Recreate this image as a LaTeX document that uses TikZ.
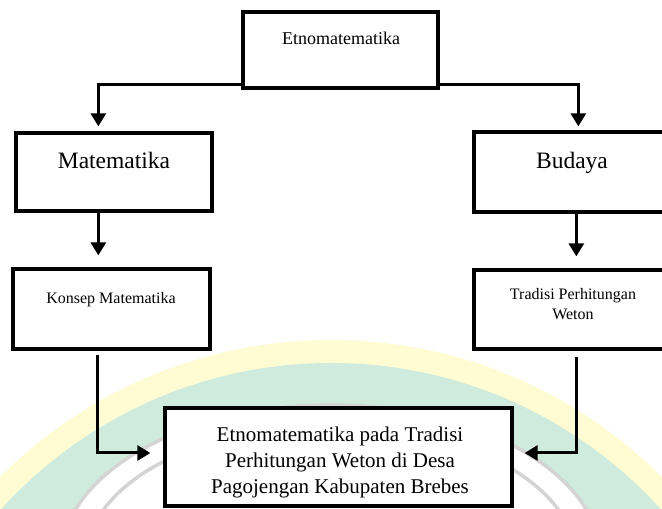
\documentclass[tikz,border=0pt]{standalone}
\usepackage{fontspec}
\setmainfont{Liberation Serif}
\usetikzlibrary{arrows.meta,calc}
\definecolor{wmyellow}{HTML}{FFFBD2}
\definecolor{wmteal}{HTML}{CFEBDD}
\definecolor{wmgrey}{HTML}{D4D4D4}
\begin{document}
\begin{tikzpicture}[x=1pt,y=1pt,
  box/.style={draw=black, line width=3.3pt, fill=white, inner sep=0pt},
  conn/.style={line width=3pt, -{Triangle[length=13pt,width=15pt]}},
  lbl/.style={inner sep=0pt, anchor=base, align=center},
  mlbl/.style={inner sep=0pt, anchor=center, align=center}]
\useasboundingbox (0,0) rectangle (662,509);
% watermark
\begin{scope}
\clip (0,0) rectangle (662,509);
\fill[wmyellow] (331,-299) circle (468);
\fill[wmteal] (331,-299) circle (445);
\fill[white] (331,-51) ellipse (270 and 155);
\draw[wmgrey, line width=3.5pt] (331,-51) ellipse (270 and 155);
\draw[wmgrey, line width=3.5pt] (331,-51) ellipse (245 and 135);
\end{scope}
% boxes
\node[box, minimum width=195pt, minimum height=76pt] (top) at (340.5,459) {};
\node[box, minimum width=196pt, minimum height=78pt] (mat) at (114,337) {};
\node[box, minimum width=196pt, minimum height=80pt] (bud) at (572,337) {};
\node[box, minimum width=197pt, minimum height=80pt] (kon) at (111.5,200) {};
\node[box, minimum width=196pt, minimum height=79pt] (tra) at (572,199.5) {};
\node[box, minimum width=347pt, minimum height=98pt] (bot) at (338.5,52) {};
% texts
\node[lbl, font=\fontsize{18}{22}\selectfont] (toptxt) at (341,464) {Etnomatematika};
\node[lbl, font=\fontsize{23.5}{28}\selectfont] (mattxt) at (114,340) {Matematika};
\node[lbl, font=\fontsize{23.5}{28}\selectfont] (budtxt) at (572,340) {Budaya};
\node[lbl, font=\fontsize{16}{20}\selectfont] (kontxt) at (111,205) {Konsep Matematika};
\node[mlbl, font=\fontsize{16}{20.5}\selectfont] (tratxt) at (573,205) {Tradisi Perhitungan\\Weton};
\node[mlbl, font=\fontsize{21}{26}\selectfont] (bottxt) at (340,47) {Etnomatematika pada Tradisi\\Perhitungan Weton di Desa\\Pagojengan Kabupaten Brebes};
% connectors
\coordinate (m1) at ([xshift=84pt]mat.south west);
\coordinate (b1) at ([xshift=104pt]bud.south west);
\coordinate (k1) at ([xshift=86pt,yshift=-4pt]kon.south west);
\coordinate (t1) at ([xshift=104pt,yshift=-6pt]tra.south west);
\draw[conn, shorten >=5pt] ([yshift=5pt]top.south west) -| ([xshift=84pt]mat.north west);
\draw[conn, shorten >=4pt] ([yshift=5pt]top.south east) -| ([xshift=106pt]bud.north west);
\draw[conn, shorten >=12pt] (m1) -- (m1 |- kon.north);
\draw[conn, shorten >=12pt] (b1) -- (b1 |- tra.north);
\draw[conn, shorten >=13pt] (k1) |- ([yshift=4pt]bot.west);
\draw[conn, shorten >=11pt] (t1) |- ([yshift=4pt]bot.east);
\end{tikzpicture}
\end{document}
